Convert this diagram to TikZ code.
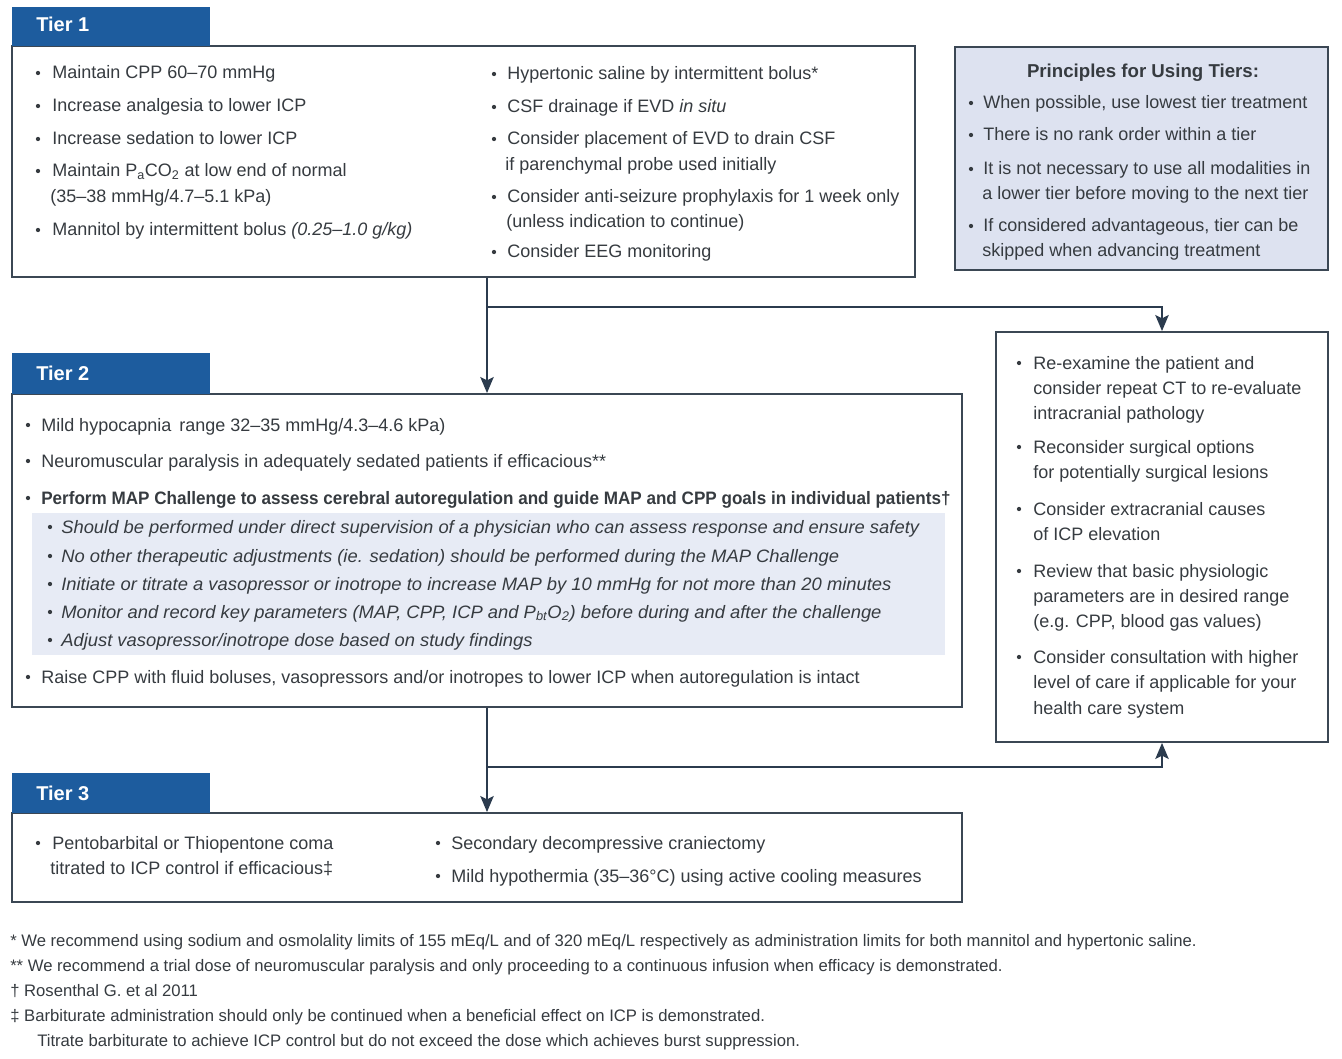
\documentclass[tikz,border=0pt]{standalone}
\usepackage{fontspec}
\setmainfont{Liberation Sans}
\usetikzlibrary{arrows.meta,fit}
\definecolor{hdr}{HTML}{1D5C9E}
\definecolor{txtc}{HTML}{363B40}
\definecolor{brd}{HTML}{3B4754}
\definecolor{pfill}{HTML}{DDE2F0}
\definecolor{sfill}{HTML}{E7EBF5}
\definecolor{arr}{HTML}{2B3B4E}
\newcounter{tn}
\newcommand\Tx[3]{\stepcounter{tn}\node[txt] (tx\arabic{tn}) at (#1,#2+6) {#3};}
\newcommand\Bu[4]{\stepcounter{tn}\node[dot] (bu\arabic{tn}) at (#1,#3) {};\Tx{#2}{#3}{#4}}
\newcommand\Fn[3]{\stepcounter{tn}\node[fntxt] (fn\arabic{tn}) at (#1,#2+5) {#3};}
\newcommand\It[1]{\scalebox{1.022}[1]{\itshape #1}}
\tikzset{
  txt/.style={anchor=base west, inner sep=0pt, text=txtc, font=\fontsize{13.5pt}{16pt}\selectfont},
  fntxt/.style={anchor=base west, inner sep=0pt, text=txtc, font=\fontsize{12.5pt}{14pt}\selectfont},
  dot/.style={circle, fill=txtc, inner sep=0pt, minimum size=3.2pt},
  box/.style={draw=brd, line width=1.4pt, inner sep=0pt, fill=white},
  hdrbox/.style={fill=hdr, inner sep=0pt, draw=none},
  hdrtxt/.style={anchor=base west, inner sep=0pt, text=white, font=\fontsize{15pt}{17pt}\selectfont\bfseries},
  conn/.style={draw=arr, line width=1.5pt},
  arrow/.style={conn, -{Stealth[length=12pt,width=10pt,inset=2.5pt]}}
}
\begin{document}
\begin{tikzpicture}[x=0.75pt,y=-0.75pt]
\useasboundingbox[fill=white] (0,0) rectangle (1342,1059);

% ---------- connector helpers ----------
\coordinate (ax) at (487,0);
\coordinate (j1) at (487,307);
\coordinate (j2) at (487,767);

% ---------- Tier 1 ----------
\node[box, fit={(12,46) (915,277)}] (tier1) {};
\node[hdrbox, fit={(12,7) (210,46)}] (h1) {};
\node[hdrtxt] (h1t) at (36,32) {Tier 1};
\Bu{38}{52}{73}{Maintain CPP 60–70 mmHg}
\Bu{38}{52}{106}{Increase analgesia to lower ICP}
\Bu{38}{52}{139}{Increase sedation to lower ICP}
\Bu{38}{52}{171}{Maintain P\textsubscript{a}CO\textsubscript{2} at low end of normal}
\Tx{50}{197}{(35–38 mmHg/4.7–5.1 kPa)}
\Bu{38}{52}{230}{Mannitol by intermittent bolus \textit{(0.25–1.0 g/kg)}}
\Bu{494}{507}{74}{Hypertonic saline by intermittent bolus*}
\Bu{494}{507}{107}{CSF drainage if EVD \textit{in situ}}
\Bu{494}{507}{139}{Consider placement of EVD to drain CSF}
\Tx{505}{165}{if parenchymal probe used initially}
\Bu{494}{507}{197}{Consider anti-seizure prophylaxis for 1 week only}
\Tx{506}{222}{(unless indication to continue)}
\Bu{494}{507}{252}{Consider EEG monitoring}

% ---------- Principles ----------
\node[box, fill=pfill, fit={(955,47) (1328,270)}] (prin) {};
\node[anchor=base, inner sep=0pt, text=txtc, font=\fontsize{14pt}{16pt}\selectfont\bfseries] (pt) at (1143,78) {Principles for Using Tiers:};
\Bu{971}{983}{103}{When possible, use lowest tier treatment}
\Bu{971}{983}{135}{There is no rank order within a tier}
\Bu{971}{983}{169}{It is not necessary to use all modalities in}
\Tx{982}{194}{a lower tier before moving to the next tier}
\Bu{971}{983}{226}{If considered advantageous, tier can be}
\Tx{982}{251}{skipped when advancing treatment}

% ---------- Tier 2 ----------
\node[box, fit={(12,394) (962,707)}] (tier2) {};
\node[hdrbox, fit={(12,353) (210,394)}] (h2) {};
\node[hdrtxt] (h2t) at (36,380) {Tier 2};
\fill[sfill] (32,513) rectangle (945,655);
\Bu{28}{41}{425}{Mild hypocapnia\, range 32–35 mmHg/4.3–4.6 kPa)}
\Bu{28}{41}{461}{Neuromuscular paralysis in adequately sedated patients if efficacious**}
\Bu{28}{41}{498}{\scalebox{0.95}[1]{\bfseries Perform MAP Challenge to assess cerebral autoregulation and guide MAP and CPP goals in individual patients†}}
\Bu{50}{61}{527}{\It{Should be performed under direct supervision of a physician who can assess response and ensure safety}}
\Bu{50}{61}{556}{\It{No other therapeutic adjustments (ie. sedation) should be performed during the MAP Challenge}}
\Bu{50}{61}{584}{\It{Initiate or titrate a vasopressor or inotrope to increase MAP by 10 mmHg for not more than 20 minutes}}
\Bu{50}{61}{612}{\It{Monitor and record key parameters (MAP, CPP, ICP and P\textsubscript{bt}O\textsubscript{2}) before during and after the challenge}}
\Bu{50}{61}{640}{\It{Adjust vasopressor/inotrope dose based on study findings}}
\Bu{28}{41}{677}{Raise CPP with fluid boluses, vasopressors and/or inotropes to lower ICP when autoregulation is intact}

% ---------- Right box ----------
\node[box, fit={(996,332) (1328,742)}] (rbox) {};
\Bu{1019}{1033}{363}{Re-examine the patient and}
\Tx{1033}{388}{consider repeat CT to re-evaluate}
\Tx{1033}{413}{intracranial pathology}
\Bu{1019}{1033}{447}{Reconsider surgical options}
\Tx{1033}{472}{for potentially surgical lesions}
\Bu{1019}{1033}{509}{Consider extracranial causes}
\Tx{1033}{534}{of ICP elevation}
\Bu{1019}{1033}{571}{Review that basic physiologic}
\Tx{1033}{596}{parameters are in desired range}
\Tx{1033}{621}{(e.g. CPP, blood gas values)}
\Bu{1019}{1033}{657}{Consider consultation with higher}
\Tx{1033}{682}{level of care if applicable for your}
\Tx{1033}{708}{health care system}

% ---------- Tier 3 ----------
\node[box, fit={(12,813) (962,902)}] (tier3) {};
\node[hdrbox, fit={(12,773) (210,813)}] (h3) {};
\node[hdrtxt] (h3t) at (36,800) {Tier 3};
\Bu{38}{52}{843}{Pentobarbital or Thiopentone coma}
\Tx{50}{868}{titrated to ICP control if efficacious‡}
\Bu{438}{451}{843}{Secondary decompressive craniectomy}
\Bu{438}{451}{876}{Mild hypothermia (35–36°C) using active cooling measures}

% ---------- connectors ----------
\draw[arrow] (tier1.south -| ax) -- (tier2.north -| ax);
\draw[arrow] (j1) -| (rbox.north);
\draw[arrow] (tier2.south -| ax) -- (tier3.north -| ax);
\draw[arrow] (j2) -| (rbox.south);

% ---------- footnotes ----------
\Fn{10}{941}{* We recommend using sodium and osmolality limits of 155 mEq/L and of 320 mEq/L respectively as administration limits for both mannitol and hypertonic saline.}
\Fn{10}{966}{** We recommend a trial dose of neuromuscular paralysis and only proceeding to a continuous infusion when efficacy is demonstrated.}
\Fn{10}{991}{† Rosenthal G. et al 2011}
\Fn{10}{1016}{‡ Barbiturate administration should only be continued when a beneficial effect on ICP is demonstrated.}
\Fn{37}{1041}{Titrate barbiturate to achieve ICP control but do not exceed the dose which achieves burst suppression.}
\end{tikzpicture}
\end{document}
